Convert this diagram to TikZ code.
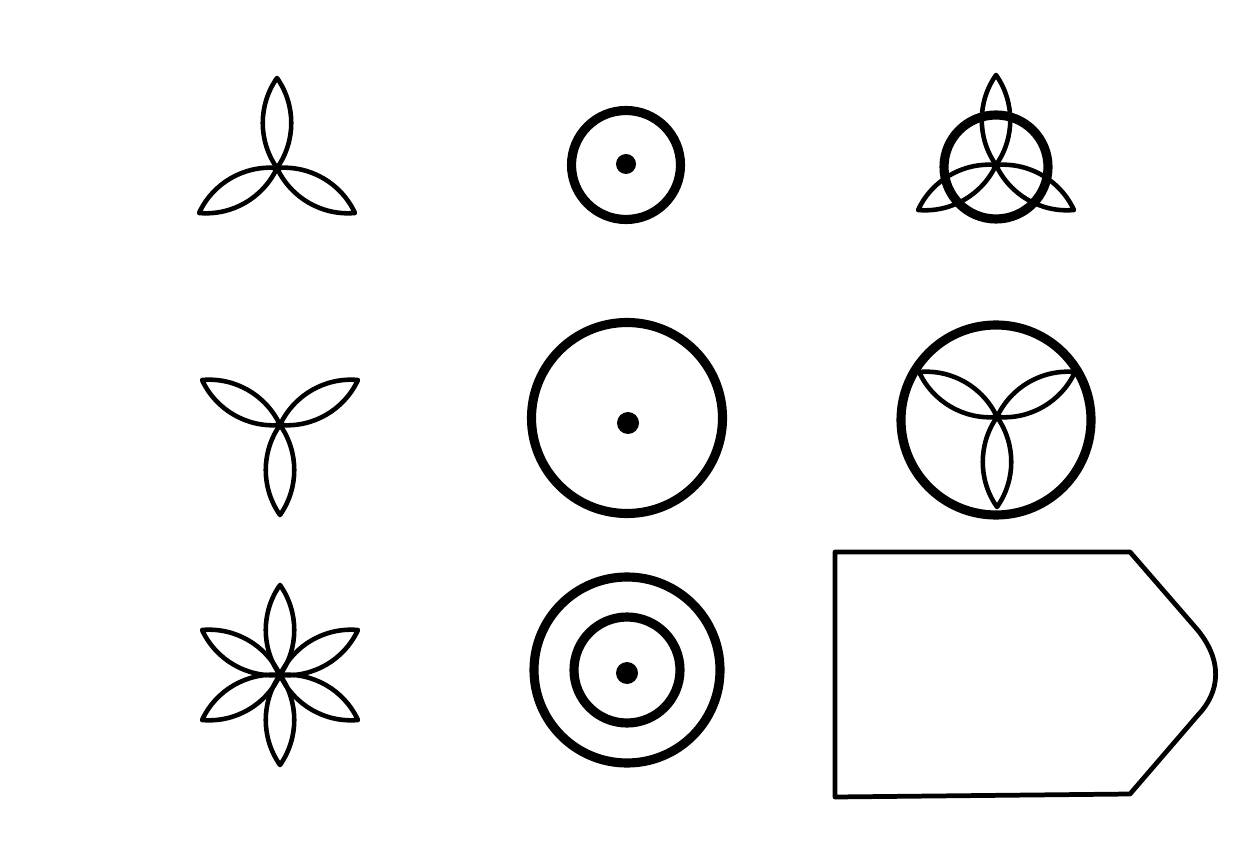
\documentclass[tikz,border=0pt]{standalone}
\begin{document}
\begin{tikzpicture}[x=0.02cm,y=0.02cm,
  petalline/.style={draw=black,line width=2.6pt,line join=round},
  ringline/.style={draw=black,line width=5.2pt},
  dotfill/.style={fill=black},
  plateline/.style={draw=black,line width=2.7pt,line join=round},
  petal/.pic={\draw[petalline] (0,0) .. controls (27,19) and (63,19) .. (90,0)
      .. controls (63,-19) and (27,-19) .. (0,0) -- cycle;}]
\useasboundingbox (0,0) rectangle (1256,842);
\fill[white] (0,0) rectangle (1256,842);
% centres
\coordinate (tl) at (277,674);
\coordinate (tm) at (626,677);
\coordinate (tr) at (996,677);
\coordinate (ml) at (280,417);
\coordinate (mm) at (627,424);
\coordinate (mr) at (996,422);
\coordinate (mrt) at (997,425);
\coordinate (bl) at (280,167);
\coordinate (bm) at (627,172);
% top-left trefoil
\foreach \a in {90,210,330} \pic[rotate=\a] at (tl) {petal};
% top-middle ring with dot
\draw[ringline] (tm) circle (54.5);
\fill[dotfill] (626,678) circle (10);
% top-right ring with trefoil
\foreach \a in {90,210,330} \pic[rotate=\a] at (tr) {petal};
\draw[ringline] (tr) ++(0,-2) circle (52);
% middle-left trefoil
\foreach \a in {270,30,150} \pic[rotate=\a] at (ml) {petal};
% middle-middle ring with dot
\draw[ringline] (mm) circle (95.5);
\fill[dotfill] (628,419) circle (11);
% middle-right ring with trefoil
\foreach \a in {270,30,150} \pic[rotate=\a] at (mrt) {petal};
\draw[ringline] (mr) circle (95);
% bottom-left six-petal star
\foreach \a in {30,90,...,330} \pic[rotate=\a] at (bl) {petal};
% bottom-middle double ring with dot
\draw[ringline] (bm) circle (93);
\draw[ringline] (bm) circle (53);
\fill[dotfill] (627,169) circle (11);
% bottom-right plate
\draw[plateline] (835,290) -- (1130,290) -- (1195,215)
  .. controls (1224,182) and (1220,150) .. (1198,127)
  -- (1130,48) -- (835,45) -- cycle;
\end{tikzpicture}
\end{document}
